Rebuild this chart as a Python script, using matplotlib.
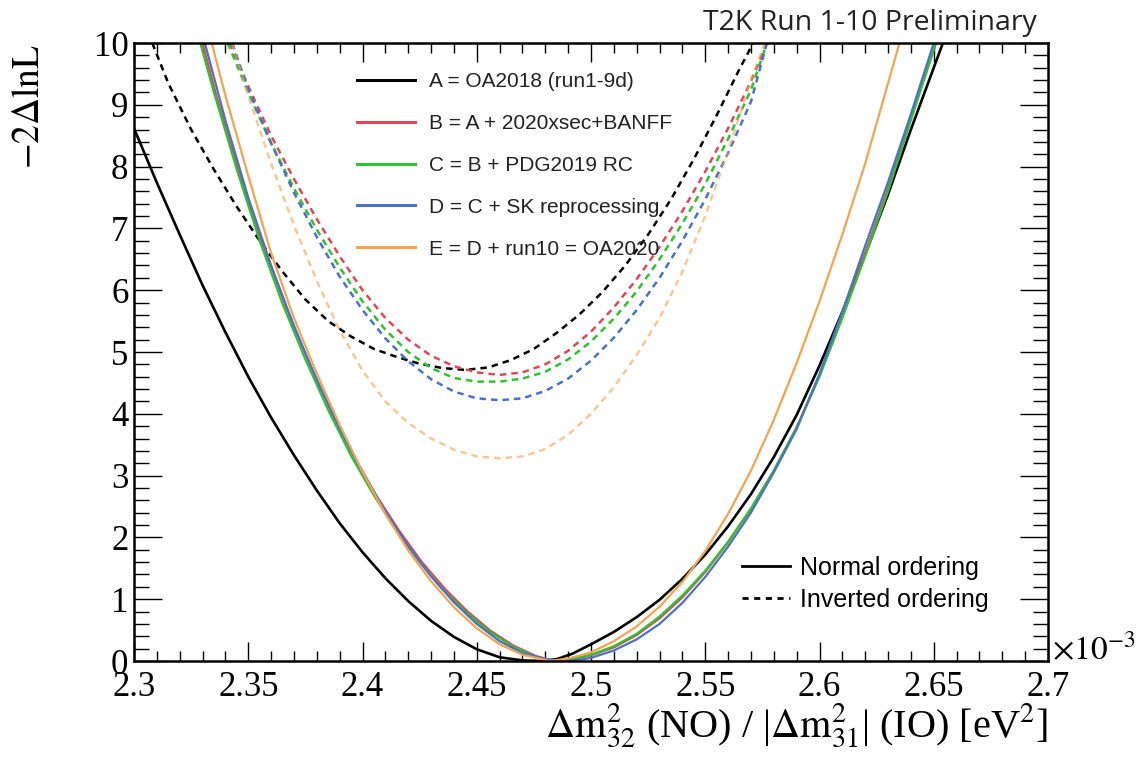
import matplotlib
matplotlib.use("Agg")
import matplotlib.pyplot as plt
from matplotlib.lines import Line2D
from matplotlib.ticker import MultipleLocator, FormatStrFormatter

# -2 delta lnL scans versus the atmospheric mass splitting (units of 1e-3 eV^2)
# Normal ordering (solid)
a_no_x = [2.300, 2.310, 2.320, 2.330, 2.340, 2.350, 2.360, 2.370, 2.380, 2.390, 2.400, 2.410,
          2.420, 2.430, 2.440, 2.450, 2.460, 2.470, 2.478, 2.485, 2.492, 2.500, 2.510, 2.520,
          2.530, 2.540, 2.550, 2.560, 2.570, 2.580, 2.590, 2.600, 2.610, 2.620, 2.630, 2.640, 2.654]
a_no_y = [8.62, 7.74, 6.90, 6.08, 5.32, 4.60, 3.94, 3.33, 2.76, 2.23, 1.76, 1.34,
          0.97, 0.65, 0.39, 0.19, 0.06, 0.01, 0.00, 0.03, 0.12, 0.27, 0.47, 0.71,
          0.99, 1.33, 1.72, 2.18, 2.70, 3.30, 3.98, 4.78, 5.65, 6.58, 7.55, 8.60, 10.0]

b_no_x = [2.330, 2.336, 2.346, 2.356, 2.366, 2.376, 2.386, 2.396, 2.406, 2.416, 2.426, 2.436,
          2.446, 2.456, 2.466, 2.476, 2.484, 2.492, 2.500, 2.510, 2.520, 2.530, 2.540, 2.550,
          2.560, 2.570, 2.580, 2.590, 2.600, 2.610, 2.620, 2.630, 2.640, 2.651]
b_no_y = [10.0, 9.15, 7.90, 6.78, 5.78, 4.88, 4.06, 3.33, 2.68, 2.11, 1.60, 1.17,
          0.80, 0.49, 0.25, 0.08, 0.00, 0.03, 0.09, 0.22, 0.42, 0.69, 1.03, 1.44,
          1.92, 2.46, 3.08, 3.78, 4.62, 5.58, 6.60, 7.65, 8.80, 10.0]

c_no_x = [2.329, 2.335, 2.345, 2.355, 2.365, 2.375, 2.385, 2.395, 2.405, 2.415, 2.425, 2.435,
          2.445, 2.455, 2.465, 2.475, 2.482, 2.490, 2.500, 2.510, 2.520, 2.530, 2.540, 2.550,
          2.560, 2.570, 2.580, 2.590, 2.600, 2.610, 2.620, 2.630, 2.640, 2.651]
c_no_y = [10.0, 9.20, 7.95, 6.80, 5.78, 4.88, 4.06, 3.32, 2.68, 2.10, 1.60, 1.16,
          0.80, 0.49, 0.25, 0.08, 0.00, 0.02, 0.10, 0.24, 0.44, 0.72, 1.06, 1.46,
          1.93, 2.47, 3.08, 3.78, 4.60, 5.55, 6.55, 7.60, 8.75, 10.0]

d_no_x = [2.331, 2.340, 2.350, 2.360, 2.370, 2.380, 2.390, 2.400, 2.410, 2.420, 2.430, 2.440,
          2.450, 2.460, 2.470, 2.480, 2.487, 2.495, 2.500, 2.510, 2.520, 2.530, 2.540, 2.550,
          2.560, 2.570, 2.580, 2.590, 2.600, 2.610, 2.620, 2.630, 2.640, 2.650]
d_no_y = [10.0, 8.75, 7.50, 6.40, 5.42, 4.55, 3.76, 3.05, 2.42, 1.86, 1.37, 0.95,
          0.60, 0.32, 0.13, 0.03, 0.00, 0.02, 0.05, 0.17, 0.35, 0.60, 0.94, 1.36,
          1.85, 2.40, 3.05, 3.75, 4.65, 5.65, 6.72, 7.75, 8.85, 10.0]

e_no_x = [2.334, 2.340, 2.350, 2.360, 2.370, 2.380, 2.390, 2.400, 2.410, 2.420, 2.430, 2.440,
          2.450, 2.460, 2.470, 2.482, 2.490, 2.500, 2.510, 2.520, 2.530, 2.540, 2.550, 2.560,
          2.570, 2.580, 2.590, 2.600, 2.610, 2.620, 2.635]
e_no_y = [10.0, 9.15, 7.85, 6.60, 5.55, 4.65, 3.82, 3.06, 2.38, 1.79, 1.29, 0.87,
          0.53, 0.27, 0.10, 0.00, 0.04, 0.14, 0.32, 0.56, 0.88, 1.28, 1.78, 2.38,
          3.08, 3.90, 4.82, 5.82, 6.90, 8.05, 10.0]

# Inverted ordering (dashed)
a_io_x = [2.308, 2.315, 2.325, 2.335, 2.345, 2.355, 2.365, 2.375, 2.385, 2.395, 2.405, 2.415,
          2.425, 2.435, 2.445, 2.455, 2.465, 2.475, 2.485, 2.495, 2.505, 2.515, 2.525, 2.535,
          2.545, 2.555, 2.565, 2.571]
a_io_y = [10.0, 9.35, 8.60, 7.95, 7.35, 6.80, 6.30, 5.85, 5.50, 5.25, 5.05, 4.92,
          4.81, 4.74, 4.71, 4.75, 4.87, 5.05, 5.31, 5.61, 5.97, 6.40, 6.90, 7.47,
          8.12, 8.83, 9.58, 10.0]

io_grid = [2.350, 2.360, 2.370, 2.380, 2.390, 2.400, 2.410, 2.420, 2.430, 2.440, 2.450, 2.460,
           2.470, 2.480, 2.490, 2.500, 2.510, 2.520, 2.530, 2.540, 2.550, 2.560, 2.570]

b_io_x = [2.342] + io_grid + [2.577]
b_io_y = [10.0, 9.30, 8.50, 7.80, 7.15, 6.55, 6.00, 5.55, 5.20, 4.94, 4.77, 4.67, 4.63,
          4.67, 4.80, 5.02, 5.33, 5.72, 6.18, 6.70, 7.28, 7.92, 8.62, 9.38, 10.0]

c_io_x = [2.341] + io_grid + [2.577]
c_io_y = [10.0, 9.20, 8.38, 7.65, 6.98, 6.37, 5.82, 5.36, 5.00, 4.74, 4.58, 4.52, 4.52,
          4.57, 4.68, 4.88, 5.17, 5.54, 5.98, 6.50, 7.08, 7.72, 8.45, 9.24, 10.0]

d_io_x = [2.343] + io_grid + [2.577]
d_io_y = [10.0, 9.25, 8.38, 7.58, 6.86, 6.22, 5.68, 5.22, 4.85, 4.56, 4.36, 4.25, 4.22,
          4.25, 4.37, 4.57, 4.86, 5.23, 5.68, 6.20, 6.80, 7.47, 8.22, 9.05, 10.0]

e_io_x = [2.343] + io_grid + [2.576]
e_io_y = [10.0, 9.15, 8.05, 7.05, 6.15, 5.35, 4.70, 4.20, 3.85, 3.60, 3.42, 3.31, 3.28,
          3.31, 3.43, 3.66, 4.00, 4.43, 4.95, 5.55, 6.30, 7.20, 8.25, 9.40, 10.0]

labels = ["A = OA2018 (run1-9d)", "B = A + 2020xsec+BANFF", "C = B + PDG2019 RC",
          "D = C + SK reprocessing", "E = D + run10 = OA2020"]
colors = ["#000000", "#e04858", "#2ec32e", "#4a72c8", "#f5a350"]

no_curves = [(a_no_x, a_no_y), (b_no_x, b_no_y), (c_no_x, c_no_y), (d_no_x, d_no_y), (e_no_x, e_no_y)]
io_curves = [(a_io_x, a_io_y), (b_io_x, b_io_y), (c_io_x, c_io_y), (d_io_x, d_io_y), (e_io_x, e_io_y)]

plt.rcParams["mathtext.fontset"] = "stix"
serif = "Liberation Serif"
sans = "Liberation Sans"

W, H = 1138, 769
fig = plt.figure(figsize=(W / 100, H / 100), dpi=100)
ax = fig.add_axes([134 / W, 1 - 661 / H, 914 / W, 618 / H])

dash = (0, (2.6, 2.0))
for (x, y), col in zip(io_curves, colors):
    alpha = 0.6 if col == colors[4] else 1.0
    ax.plot(x, y, color=col, lw=1.8, linestyle=dash, alpha=alpha)
for i, ((x, y), col) in enumerate(zip(no_curves, colors)):
    ax.plot(x, y, color=col, lw=1.9 if i == 0 else 1.6)

ax.set_xlim(2.3, 2.7)
ax.set_ylim(0, 10)

# ROOT style axes: ticks inside on all four sides
ax.xaxis.set_major_locator(MultipleLocator(0.05))
ax.xaxis.set_minor_locator(MultipleLocator(0.01))
ax.yaxis.set_major_locator(MultipleLocator(1))
ax.yaxis.set_minor_locator(MultipleLocator(0.2))
ax.xaxis.set_major_formatter(plt.FuncFormatter(lambda v, p: f"{v:.3f}".rstrip("0").rstrip(".")))
ax.yaxis.set_major_formatter(FormatStrFormatter("%d"))
ax.tick_params(which="both", direction="in", top=True, right=True, width=1.0)
ax.tick_params(axis="y", which="major", length=20.5, pad=4)
ax.tick_params(axis="y", which="minor", length=10.5)
ax.tick_params(axis="x", which="major", length=13.5, pad=7)
ax.tick_params(axis="x", which="minor", length=7)
for lab in ax.get_xticklabels() + ax.get_yticklabels():
    lab.set_fontfamily(serif)
    lab.set_fontsize(25)
for sp in ax.spines.values():
    sp.set_linewidth(1.8)

# axis titles
fig.text(1048 / W, 1 - 737 / H,
         r"$\Delta\mathrm{m}^{2}_{32}$ (NO) / |$\Delta\mathrm{m}^{2}_{31}$| (IO) [eV$^{2}$]",
         ha="right", va="baseline", fontsize=29, family=serif)
fig.text(30 / W, 1 - 44 / H, r"$-2\Delta\mathrm{lnL}$", rotation=90,
         ha="center", va="top", fontsize=27, family=serif)
fig.text(1052 / W, 1 - 650 / H, r"$\times10^{-3}$", ha="left", va="center",
         fontsize=24, family=serif)
fig.text(1037 / W, 1 - 30 / H, "T2K Run 1-10 Preliminary", ha="right", va="baseline",
         fontsize=20.5, family="Open Sans", color="#222222")

# legend of the fit configurations
handles = [Line2D([], [], color=c, lw=2.2) for c in colors]
leg1 = ax.legend(handles, labels, loc="upper left", frameon=False,
                 bbox_to_anchor=(357 / W, 1 - 72 / H), bbox_transform=fig.transFigure,
                 prop={"family": sans, "size": 15}, handlelength=2.8, handletextpad=0.65,
                 labelspacing=1.1, borderpad=0, borderaxespad=0, labelcolor="#222222")
ax.add_artist(leg1)

order_handles = [Line2D([], [], color="black", lw=2.0),
                 Line2D([], [], color="black", lw=2.0, linestyle=(0, (2.2, 2.0)))]
ax.legend(order_handles, ["Normal ordering", "Inverted ordering"], loc="upper left",
          frameon=False, bbox_to_anchor=(742 / W, 1 - 556 / H),
          bbox_transform=fig.transFigure, prop={"family": sans, "size": 18},
          handlelength=1.9, handletextpad=0.4, labelspacing=0.31, borderpad=0, borderaxespad=0)

fig.savefig("out.png", dpi=100)
